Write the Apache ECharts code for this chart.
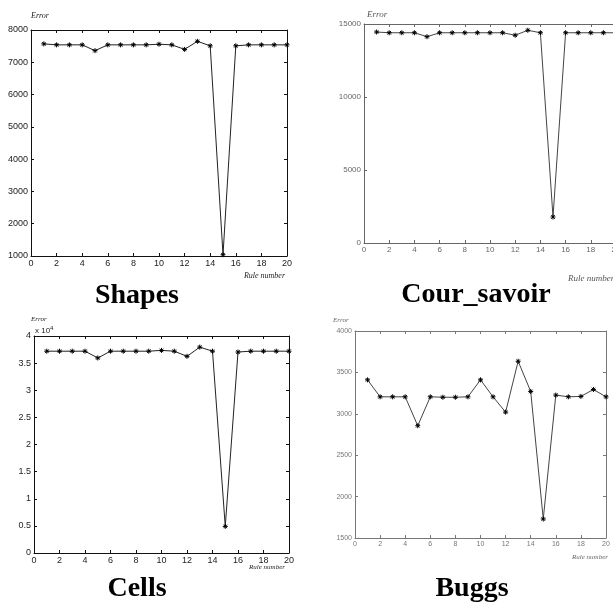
<!DOCTYPE html>
<html>
<head>
<meta charset="utf-8">
<script src="https://cdn.jsdelivr.net/npm/echarts@6/dist/echarts.min.js"></script>
<style>html,body{margin:0;padding:0;background:#fff;}#c{width:613px;height:603px;}</style>
</head>
<body>
<div id="c"></div>
<script>
const ruleNumbers = [1,2,3,4,5,6,7,8,9,10,11,12,13,14,15,16,17,18,19,20];
const shapesError = [7570,7540,7540,7540,7360,7540,7540,7540,7540,7560,7540,7400,7650,7510,1040,7510,7540,7540,7540,7540];
const courSavoirError = [14450,14400,14400,14400,14130,14400,14400,14400,14400,14400,14400,14230,14570,14400,1780,14400,14400,14400,14400,14400];
const cellsError = [37200,37200,37200,37200,35950,37200,37200,37200,37200,37350,37200,36250,37950,37200,4900,37050,37200,37200,37200,37200];
const buggsError = [3410,3205,3205,3205,2856,3205,3200,3200,3205,3410,3205,3020,3635,3270,1729,3226,3205,3210,3294,3205];
const panelTitles = ['Shapes','Cour_savoir','Cells','Buggs'];
const xLabel = 'Rule number';
const yLabel = 'Error';

const chart = echarts.init(document.getElementById('c'));

const panels = [
  {data: shapesError, grid:{left:31, top:30, width:256, height:226}, ymin:1000, ymax:8000, yint:1000, fmt:null, line:'#111', lab:'#222', fs:9},
  {data: courSavoirError, grid:{left:364, top:24, width:252, height:219}, ymin:0, ymax:15000, yint:5000, fmt:null, line:'#666', lab:'#666', fs:8},
  {data: cellsError, grid:{left:34, top:336, width:255, height:217}, ymin:0, ymax:40000, yint:5000, fmt:v=>String(v/10000), line:'#111', lab:'#222', fs:9},
  {data: buggsError, grid:{left:355, top:331, width:251, height:207}, ymin:1500, ymax:4000, yint:500, fmt:null, line:'#777', lab:'#777', fs:7}
];

const grids=[], xAxes=[], yAxes=[], series=[];
const star = 'path://M0,-5L0,5M-5,0L5,0M-3.5,-3.5L3.5,3.5M-3.5,3.5L3.5,-3.5';
panels.forEach((p,i)=>{
  grids.push(Object.assign({show:false, containLabel:false, outerBoundsMode:'none'}, p.grid));
  const common = {type:'value', gridIndex:i, splitLine:{show:false},
    axisLine:{show:true, onZero:false, lineStyle:{color:p.line, width:1}},
    axisTick:{show:true, inside:true, length:3, lineStyle:{color:p.line}}};
  xAxes.push(Object.assign({}, common, {position:'bottom', min:0, max:20, interval:2,
    axisLabel:{show:true, color:p.lab, fontSize:p.fs, fontFamily:'Liberation Sans, Arial', margin:3}}));
  xAxes.push(Object.assign({}, common, {position:'top', min:0, max:20, interval:2, axisLabel:{show:false}}));
  yAxes.push(Object.assign({}, common, {position:'left', min:p.ymin, max:p.ymax, interval:p.yint,
    axisLabel:{show:true, color:p.lab, fontSize:p.fs, fontFamily:'Liberation Sans, Arial', margin:3,
      formatter: p.fmt ? p.fmt : (v=>String(v))}}));
  yAxes.push(Object.assign({}, common, {position:'right', min:p.ymin, max:p.ymax, interval:p.yint, axisLabel:{show:false}}));
  series.push({type:'line', xAxisIndex:2*i, yAxisIndex:2*i,
    data: ruleNumbers.map((r,k)=>[r, p.data[k]]),
    lineStyle:{color:i%2? '#444':'#222', width:1},
    symbol: star, symbolSize:5,
    itemStyle:{color:'#000', borderColor:'#000', borderWidth:1},
    animation:false, silent:true});
});

function txt(x,y,text,opt){
  return {type:'text', x:x, y:y, silent:true, style:Object.assign({text:text, fill:'#222', align:'left', verticalAlign:'middle',
    font:'italic 8px "Liberation Serif", "Times New Roman", serif'}, opt||{})};
}
const titleFont = 'bold 28px "Liberation Serif", "Times New Roman", serif';
const graphics = [
  txt(31,16,yLabel),
  txt(285,276,xLabel,{align:'right'}),
  txt(367,15,yLabel,{fill:'#555', font:'italic 9px "Liberation Serif", serif'}),
  txt(568,279,xLabel,{fill:'#555', font:'italic 9px "Liberation Serif", serif'}),
  txt(31,319,yLabel,{font:'italic 7px "Liberation Serif", serif'}),
  {type:'text', x:35, y:331, silent:true, style:{text:'x 10{s|4}', fill:'#222', verticalAlign:'middle',
    font:'8px "Liberation Sans", Arial', rich:{s:{fontSize:6, verticalAlign:'top', padding:[0,0,6,0], fill:'#222', fontFamily:'Liberation Sans'}}}},
  txt(285,567,xLabel,{align:'right', font:'italic 7px "Liberation Serif", serif'}),
  txt(333,320,yLabel,{fill:'#666', font:'italic 7px "Liberation Serif", serif'}),
  txt(608,557,xLabel,{align:'right', fill:'#666', font:'italic 7px "Liberation Serif", serif'}),
  txt(137,296,panelTitles[0],{align:'center', fill:'#000', font:titleFont}),
  txt(476,295,panelTitles[1],{align:'center', fill:'#000', font:titleFont}),
  txt(137,589,panelTitles[2],{align:'center', fill:'#000', font:titleFont}),
  txt(472,589,panelTitles[3],{align:'center', fill:'#000', font:titleFont})
];

chart.setOption({
  animation:false,
  backgroundColor:'#fff',
  grid:grids, xAxis:xAxes, yAxis:yAxes, series:series,
  graphic:graphics
});
</script>
</body>
</html>
